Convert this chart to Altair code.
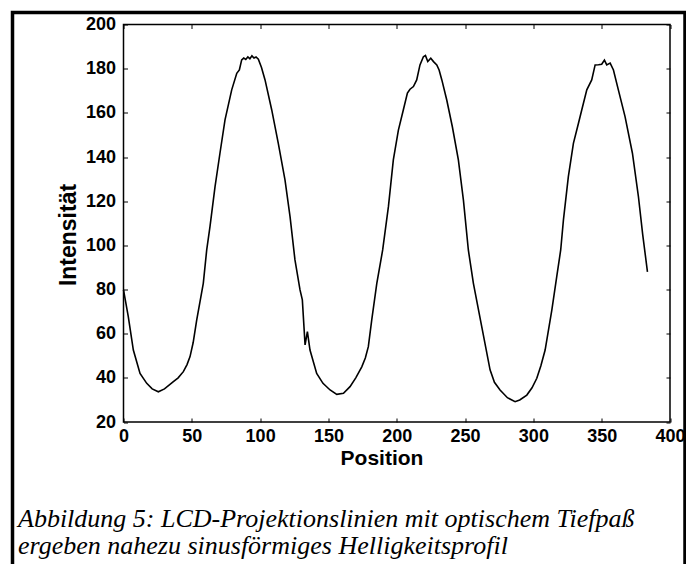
import altair as alt
import pandas as pd

# ---- data ----
POSITION = [0, 3.5, 7.2, 12.1, 17, 21, 25.5, 30, 36.5, 40, 43.8, 46.5, 48.7, 51, 53.6, 56,
            58.4, 60.9, 63.3, 67, 70.6, 74.3, 79.2, 82.9, 84.8, 86.5, 88, 89.5, 91, 92.5,
            94, 95.5, 97, 98.7, 101, 103.6, 108.5, 113.3, 118.2, 121.9, 125.5, 129.2,
            130.9, 132.9, 134.6, 136.5, 141.4, 146, 151.2, 156.1, 161, 165.8, 170, 174.4,
            177, 179.2, 181.7, 185.4, 189.7, 193.9, 197.5, 201.2, 204.8, 207.8, 209.7,
            212.2, 214.6, 217, 219.5, 221, 222.7, 224.9, 226.9, 229.3, 231, 233, 236.6,
            240.7, 245.1, 248.8, 252.4, 256.1, 262.2, 268.3, 271.5, 275.6, 281, 286.6,
            290, 295.2, 299, 302.5, 305.5, 308.6, 313.5, 317.1, 320, 322, 325.6, 329.3,
            333, 335.4, 339.1, 342.7, 345.2, 347.6, 350, 352, 353.7, 356.2, 358.6, 362.2,
            367.1, 372.5, 376.9, 380, 383.5]
INTENSITY = [79.8, 67.7, 52.6, 42, 37.5, 35, 33.7, 35, 38.3, 40, 42.8, 46, 49.6, 56, 66.2,
             74.5, 82.8, 97.9, 108.5, 126.6, 141.7, 156.8, 170.4, 177.9, 179.4, 184, 184.8,
             184.2, 185.3, 184.5, 185.8, 184.8, 185.3, 184.3, 180.5, 174.9, 161.3, 146.2,
             129.6, 113, 93.4, 79.8, 75.3, 54.9, 60.9, 52.6, 42, 37.5, 34.5, 32.5, 33, 36,
             40, 45, 49, 54.1, 66.2, 82.8, 97.9, 117.5, 138.7, 152.2, 161.3, 168.9, 170.7,
             171.9, 174.9, 181.7, 185.4, 186, 183.2, 184.7, 183.2, 181.7, 179.4, 174.9,
             165.8, 153.7, 138.7, 120.5, 97.9, 82.8, 63.2, 43.6, 38, 34.5, 31, 29.2, 30,
             32.2, 35.5, 39.8, 45.5, 52.6, 70.7, 85.8, 97.9, 111.5, 131.1, 146.2, 155.3,
             161.3, 170.4, 174.9, 181.7, 181.8, 182, 183.9, 181.7, 182.5, 179.4, 170.4,
             158.3, 141.7, 122, 105, 88]
X_TICKS = [0, 50, 100, 150, 200, 250, 300, 350, 400]
Y_TICKS = [20, 40, 60, 80, 100, 120, 140, 160, 180, 200]
X_TITLE = "Position"
Y_TITLE = "Intensität"
CAPTION = ["Abbildung 5:  LCD-Projektionslinien mit optischem Tiefpaß",
           "ergeben nahezu sinusförmiges Helligkeitsprofil"]

df = pd.DataFrame({"pos": POSITION, "val": INTENSITY})
one = pd.DataFrame({"k": [0]})

W, H = 546.5, 397.5
xs = alt.Scale(domain=[0, 400], nice=False, zero=False)
ys = alt.Scale(domain=[20, 200], nice=False, zero=False)

lab = dict(labelFont="Liberation Sans", labelFontSize=18, labelFontWeight="bold",
           labelColor="black", tickColor="black", tickWidth=1, tickSize=4, offset=-4,
           domain=False, grid=False)
ttl = dict(titleFont="Liberation Sans", titleFontWeight="bold", titleColor="black")

line = alt.Chart(df).mark_line(color="black", strokeWidth=1.6).encode(
    x=alt.X("pos:Q", scale=xs,
            axis=alt.Axis(orient="bottom", values=X_TICKS, title=X_TITLE, labelPadding=5,
                          labelFlush=False, titleFontSize=21, titlePadding=2,
                          titleX=258, **lab, **ttl)),
    y=alt.Y("val:Q", scale=ys,
            axis=alt.Axis(orient="left", values=Y_TICKS, title=Y_TITLE, labelPadding=8,
                          titleFontSize=23, titlePadding=5, titleY=210, **lab, **ttl)),
)

mirror = alt.Chart(df).mark_line(strokeOpacity=0).encode(
    x=alt.X("pos:Q", scale=xs,
            axis=alt.Axis(orient="top", values=X_TICKS, title="", labels=False, **lab)),
    y=alt.Y("val:Q", scale=ys,
            axis=alt.Axis(orient="right", values=Y_TICKS, title="", labels=False, **lab)),
)

frame = alt.Chart(one).mark_rect(fillOpacity=0, stroke="black", strokeWidth=3.5).encode(
    x=alt.value(-111), x2=alt.value(561.5), y=alt.value(-12), y2=alt.value(570)
)

caption = alt.Chart(one).mark_text(
    text=CAPTION, align="left", baseline="alphabetic", font="Liberation Serif",
    fontStyle="italic", fontSize=26, lineHeight=27.5, color="black"
).encode(x=alt.value(-105.5), y=alt.value(502))

chart = alt.layer(frame, line, mirror, caption).resolve_axis(
    x="independent", y="independent"
).properties(
    width=W, height=H,
    padding={"left": 115.5, "top": 16.5, "right": 16, "bottom": 142},
    autosize=alt.AutoSizeParams(type="none"),
    background="white",
).configure_view(stroke="black", strokeWidth=1.5)

chart.save("out.html", embed_options={"renderer": "svg", "actions": False})
